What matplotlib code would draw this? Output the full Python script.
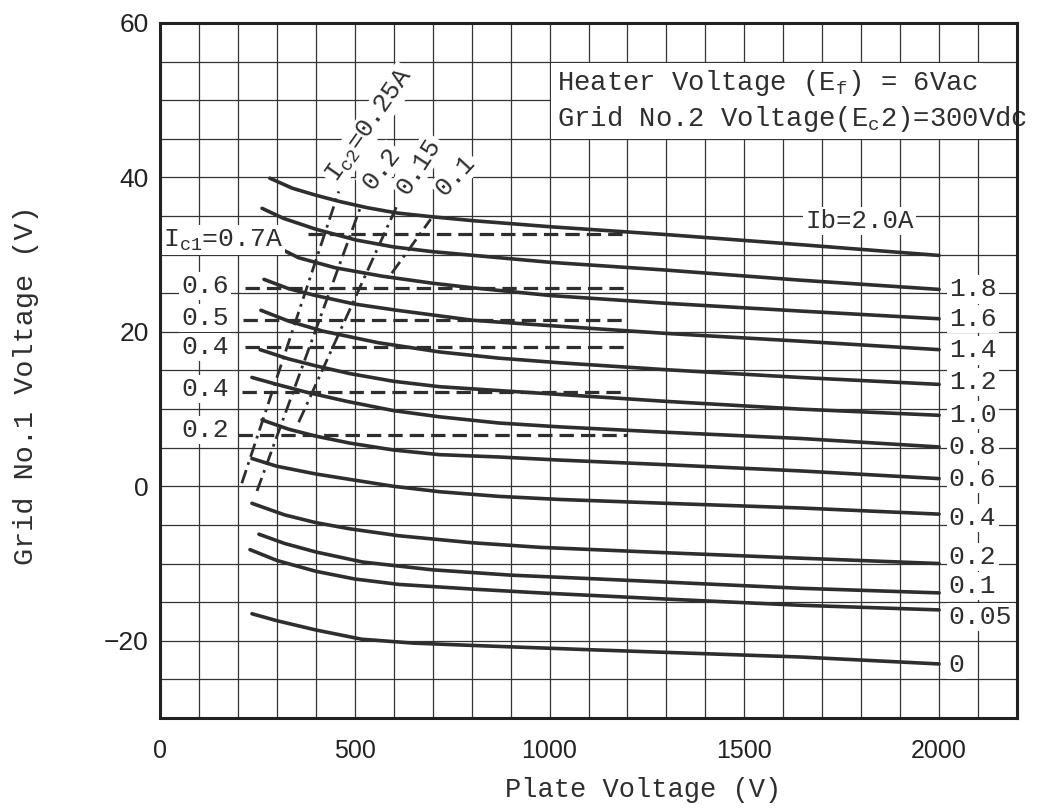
import numpy as np
import matplotlib.pyplot as plt
from matplotlib.patches import Rectangle

plt.rcParams['mathtext.fontset'] = 'custom'
plt.rcParams['mathtext.rm'] = 'Liberation Mono'
plt.rcParams['mathtext.it'] = 'Liberation Mono'

# plate current curves Ib (A): plate voltage (V) vs grid no.1 voltage (V)
ib_labels = ['2.0', '1.8', '1.6', '1.4', '1.2', '1.0', '0.8', '0.6', '0.4', '0.2', '0.1', '0.05', '0']
ib_v = [
    [282, 340, 400, 460, 530, 608, 700, 804, 1006, 1300, 1643, 2000],
    [262, 317, 400, 503, 600, 698, 850, 1004, 1300, 1643, 2000],
    [300, 356, 450, 572, 700, 804, 1004, 1300, 1643, 2000],
    [267, 330, 400, 500, 608, 804, 1004, 1300, 1643, 2000],
    [259, 330, 418, 560, 718, 870, 1026, 1300, 1643, 2000],
    [257, 330, 400, 487, 600, 718, 870, 1026, 1300, 1643, 2000],
    [236, 300, 375, 480, 600, 718, 870, 1026, 1300, 1643, 2000],
    [262, 330, 400, 487, 600, 718, 870, 1026, 1300, 1643, 2000],
    [236, 300, 400, 487, 600, 718, 870, 1026, 1300, 1643, 2000],
    [236, 320, 400, 487, 613, 800, 976, 1300, 1643, 2000],
    [254, 320, 400, 520, 697, 900, 1126, 1643, 2000],
    [231, 300, 400, 500, 613, 800, 976, 1300, 1643, 2000],
    [236, 300, 400, 518, 650, 800, 1126, 1643, 2000],
]
ib_e = [
    [39.9, 38.6, 37.7, 36.9, 36.1, 35.4, 34.9, 34.4, 33.6, 32.6, 31.3, 29.9],
    [36.0, 34.7, 33.3, 31.9, 31.0, 30.4, 29.7, 29.0, 28.0, 26.7, 25.5],
    [31.0, 29.6, 28.3, 27.2, 26.3, 25.7, 24.7, 23.7, 22.7, 21.7],
    [26.8, 25.6, 24.7, 23.6, 22.8, 21.5, 20.8, 19.8, 18.8, 17.7],
    [22.8, 21.4, 20.1, 18.6, 17.4, 16.6, 16.0, 15.1, 14.1, 13.2],
    [17.7, 16.5, 15.6, 14.6, 13.6, 12.9, 12.4, 11.9, 11.0, 10.0, 9.2],
    [14.1, 13.2, 12.2, 11.0, 9.8, 9.0, 8.2, 7.7, 7.0, 6.2, 5.1],
    [8.6, 7.4, 6.5, 5.6, 4.7, 4.1, 3.8, 3.4, 2.8, 2.0, 1.0],
    [3.6, 2.6, 1.6, 0.9, 0.0, -0.7, -1.3, -1.7, -2.2, -2.8, -3.6],
    [-2.2, -3.7, -4.7, -5.5, -6.4, -7.3, -7.9, -8.6, -9.3, -10.0],
    [-6.2, -7.4, -8.5, -9.8, -10.8, -11.5, -12.0, -13.2, -13.8],
    [-8.2, -9.6, -11.0, -12.0, -12.7, -13.3, -13.8, -14.6, -15.4, -16.0],
    [-16.5, -17.4, -18.6, -19.8, -20.3, -20.6, -21.2, -22.1, -23.0],
]
# right-hand label heights
ib_label_e = [None, 25.5, 21.7, 17.6, 13.5, 9.2, 5.1, 0.9, -4.1, -9.2, -12.9, -16.9, -23.1]

# grid no.1 current Ic1 (A), dashed constant lines
ic1_labels = ['I$_{c1}$=0.7A', '0.6', '0.5', '0.4', '0.4', '0.2']
ic1_e = [32.7, 25.7, 21.6, 18.0, 12.2, 6.6]
ic1_start = [380, 218, 213, 218, 210, 200]
ic1_end = [1200, 1200, 1200, 1200, 1200, 1200]
ic1_label_e = [31.9, 25.9, 21.8, 18.0, 12.6, 7.3]

# grid no.2 current Ic2 (A), dash-dot lines
ic2_labels = ['I$_{c2}$=0.25A', '0.2', '0.15', '0.1']
ic2_v = [[210, 459], [249, 515], [356, 608], [595, 695]]
ic2_e = [[0.4, 38.2], [-0.6, 36.2], [8.3, 36.3], [27.6, 34.6]]
ic2_label_pos = [(467, 38.8), (556, 37.9), (646, 37.3), (741, 37.0)]
ic2_label_rot = [55, 52, 57, 47]

mono = 'Liberation Mono'
ink = '#2e2e2e'

fig = plt.figure(figsize=(10.38, 8.09), dpi=100)
ax = fig.add_axes([160 / 1038, 1 - 718 / 809, 857 / 1038, 695 / 809])
ax.set_xlim(0, 2200)
ax.set_ylim(-30, 60)

ax.set_xticks([0, 500, 1000, 1500, 2000])
ax.set_xticks(np.arange(0, 2201, 100), minor=True)
ax.set_yticks([60, 40, 20, 0, -20])
ax.set_yticks(np.arange(-30, 61, 5), minor=True)
ax.tick_params(which='both', length=0)
ax.tick_params(axis='x', pad=15, labelsize=18)
ax.tick_params(axis='y', pad=8, labelsize=19)
for lab in ax.get_xticklabels() + ax.get_yticklabels():
    lab.set_family('Liberation Sans')
    lab.set_color('#222')
ax.grid(which='both', color='#333', lw=0.9, zorder=0)
for s in ax.spines.values():
    s.set_linewidth(2.2)
    s.set_color('#222')
    s.set_zorder(5)

# blank areas behind the label columns
ax.add_patch(Rectangle((4, 5.7), 210, 29.1, facecolor='white', edgecolor='none', zorder=1))
ax.add_patch(Rectangle((2015, -24.8), 172, 52.6, facecolor='white', edgecolor='none', zorder=1))

for v, e in zip(ib_v, ib_e):
    ax.plot(v, e, color=ink, lw=2.6, solid_capstyle='round', solid_joinstyle='round', zorder=3)

for e, a, b in zip(ic1_e, ic1_start, ic1_end):
    ax.plot([a, b], [e, e], color=ink, lw=2.3, dashes=(4.5, 2.2), zorder=3)

for v, e in zip(ic2_v, ic2_e):
    ax.plot(v, e, color=ink, lw=2.0, linestyle=(0, (5, 2, 1, 2)), zorder=3)

wbox = dict(facecolor='white', edgecolor='none', pad=1.5)
for lab, e in zip(ib_labels, ib_label_e):
    if e is None:
        continue
    ax.text(2025, e, lab, family=mono, fontsize=19, color=ink, ha='left', va='center',
            bbox=wbox, zorder=4)
ax.text(1656, 34.4, 'Ib=2.0A', family=mono, fontsize=18.5, color=ink, ha='left', va='center',
        bbox=wbox, zorder=4)

for i, (lab, e) in enumerate(zip(ic1_labels, ic1_label_e)):
    x0 = 8 if i == 0 else 55
    ax.text(x0, e, lab, family=mono, fontsize=19, color=ink, ha='left', va='center',
            bbox=wbox, zorder=4)

for lab, (x, y), r in zip(ic2_labels, ic2_label_pos, ic2_label_rot):
    ax.text(x, y, lab, family=mono, fontsize=18.5, color=ink, ha='left', va='bottom',
            rotation=r, rotation_mode='anchor', bbox=wbox, zorder=4)

ax.text(1018, 52.2, 'Heater Voltage (E$_f$) = 6Vac', family=mono, fontsize=19.6, color=ink,
        ha='left', va='center', bbox=dict(facecolor='white', edgecolor='none', pad=4), zorder=4)
ax.text(1018, 47.6, 'Grid No.2 Voltage(E$_c$2)=300Vdc', family=mono, fontsize=19.6, color=ink,
        ha='left', va='center', bbox=dict(facecolor='white', edgecolor='none', pad=4), zorder=4)

fig.text(643 / 1038, 1 - 790 / 809, 'Plate Voltage (V)', family=mono, fontsize=19.5,
         color=ink, ha='center', va='center')
fig.text(26 / 1038, 1 - 385 / 809, 'Grid No.1 Voltage (V)', family=mono, fontsize=20.5,
         color=ink, ha='center', va='center', rotation=90)

fig.savefig('out.png', dpi=100)
